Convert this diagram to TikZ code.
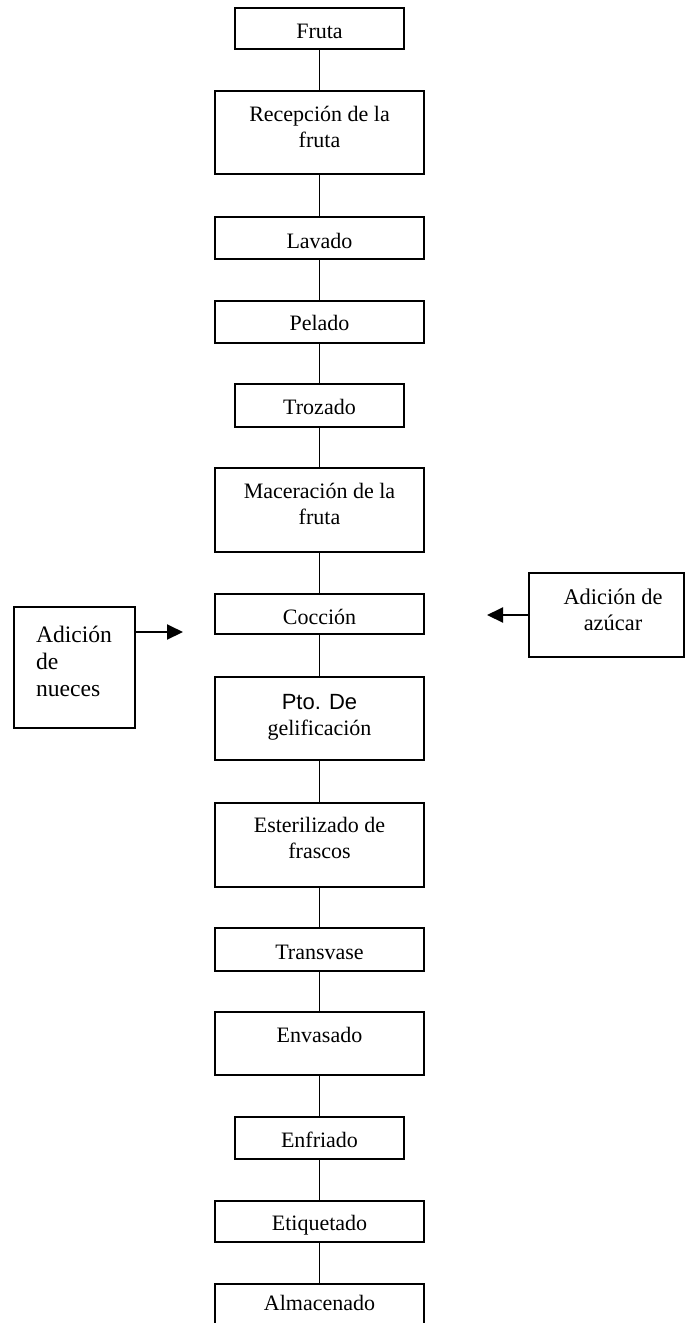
\documentclass[tikz,border=0pt]{standalone}
\usepackage{fontspec}
\setmainfont{Liberation Serif}
\newfontfamily\sansf{Liberation Sans}
\usetikzlibrary{arrows.meta}

\tikzset{
  stage/.style={draw=black, line width=2pt, rectangle, inner sep=0pt, outer sep=0pt, anchor=north west},
  % labels are placed by the baseline of their last line
  lbl/.style={inner sep=0pt, outer sep=0pt, anchor=base, align=center,
              font=\fontsize{22}{25.8}\selectfont},
  link/.style={draw=black, line width=1.8pt},
  feed/.style={draw=black, line width=2pt, -{Triangle[length=16pt,width=15pt]}},
}

% one processing stage: name, left, right, top, bottom
\newcommand\stagebox[5]{%
  \node[stage, minimum width=#3pt-#2pt, minimum height=#5pt-#4pt] (#1) at (#2,#4) {};}

\begin{document}
\begin{tikzpicture}[x=1pt, y=-1pt]
  \clip (0,0) rectangle (685,1323);
  \fill[white] (0,0) rectangle (685,1323);

  % main column
  \stagebox{fruta}{235}{404}{8}{49}
  \stagebox{rec}{215}{424}{91}{174}
  \stagebox{lav}{215}{424}{217}{259}
  \stagebox{pel}{215}{424}{301}{343}
  \stagebox{tro}{235}{404}{384}{427}
  \stagebox{mac}{215}{424}{468}{552}
  \stagebox{coc}{215}{424}{594}{634}
  \stagebox{pto}{215}{424}{677}{760}
  \stagebox{est}{215}{424}{803}{887}
  \stagebox{tra}{215}{424}{928}{971}
  \stagebox{env}{215}{424}{1012}{1075}
  \stagebox{enf}{235}{404}{1117}{1159}
  \stagebox{eti}{215}{424}{1201}{1242}
  \stagebox{alm}{215}{424}{1284}{1332}

  % side inputs
  \stagebox{nue}{14}{135}{607}{728}
  \stagebox{azu}{529}{684}{573}{657}

  % labels
  \node[lbl] (frutaT) at (319.5,38)   {Fruta};
  \node[lbl] (recT)   at (319.5,147)  {Recepción de la\\fruta};
  \node[lbl] (lavT)   at (319.5,248)  {Lavado};
  \node[lbl] (pelT)   at (319.5,330)  {Pelado};
  \node[lbl] (troT)   at (319.5,414)  {Trozado};
  \node[lbl] (macT)   at (319.5,524)  {Maceración de la\\fruta};
  \node[lbl] (cocT)   at (319.5,624)  {Cocción};
  \node[lbl] (ptoT)   at (319.5,735)  {{\sansf Pto. De}\\gelificación};
  \node[lbl] (estT)   at (319.5,858)  {Esterilizado de\\frascos};
  \node[lbl] (traT)   at (319.5,959)  {Transvase};
  \node[lbl] (envT)   at (319.5,1042) {Envasado};
  \node[lbl] (enfT)   at (319.5,1147) {Enfriado};
  \node[lbl] (etiT)   at (319.5,1230) {Etiquetado};
  \node[lbl] (almT)   at (319.5,1310) {Almacenado};
  \node[lbl, anchor=base west, align=left, font=\fontsize{23.6}{27}\selectfont]
       (nueT) at (36,696) {Adición\\de\\nueces};
  \node[lbl, font=\fontsize{22.4}{25.5}\selectfont] (azuT) at (613,630) {Adición de\\azúcar};

  % flow connectors
  \foreach \a/\b in {fruta/rec, rec/lav, lav/pel, pel/tro, tro/mac, mac/coc,
                     coc/pto, pto/est, est/tra, tra/env, env/enf, enf/eti, eti/alm}
    \draw[link] (\a.south) -- (\b.north);

  % additions
  \coordinate (nueTip) at (183,632);
  \coordinate (azuTip) at (487,615);
  \draw[feed] (nueTip -| nue.east) -- (nueTip);
  \draw[feed] (azuTip -| azu.west) -- (azuTip);
\end{tikzpicture}
\end{document}
